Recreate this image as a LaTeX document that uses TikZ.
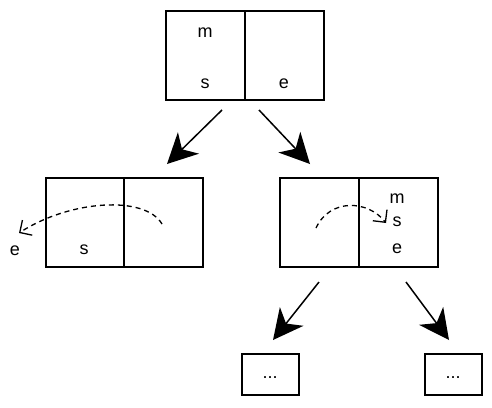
\documentclass[tikz,border=0pt]{standalone}
\usepackage{fontspec}
\setmainfont{Liberation Sans}
\usetikzlibrary{arrows.meta}
\begin{document}
\begin{tikzpicture}[x=1pt,y=-1pt,
  cell/.style={draw,line width=1.7pt,minimum width=79pt,minimum height=89pt,inner sep=0pt,anchor=north west},
  small/.style={draw,line width=1.7pt,minimum width=57pt,minimum height=41pt,inner sep=0pt,anchor=north west},
  lbl/.style={font=\fontsize{18}{21}\selectfont,inner sep=0pt},
  big/.style={line width=1.5pt,-{Stealth[length=30pt,width=30pt,inset=9pt]}},
  curl/.style={line width=1.3pt,dashed,dash pattern=on 5pt off 4pt,-{Straight Barb[length=9pt,width=18pt,line width=1.3pt]}}]
\useasboundingbox (0,0) rectangle (492,407);
% top
\node[cell] (tl) at (165,10) {};
\node[cell] (tr) at (244,10) {};
\node[lbl] (tm) at (205,33) {m};
\node[lbl] (ts) at (205,84) {s};
\node[lbl] (te) at (284,84) {e};
% left
\node[cell,minimum width=78pt] (ll) at (45,177) {};
\node[cell] (lr) at (123,177) {};
\node[lbl] (ls) at (84,250) {s};
\node[lbl] (le) at (15,251) {e};
% right
\node[cell] (rl) at (279,177) {};
\node[cell] (rr) at (358,177) {};
\node[lbl] (rm) at (397,199) {m};
\node[lbl] (rs) at (397,222) {s};
\node[lbl] (re) at (397,249) {e};
% small
\node[small] (b1) at (241,353) {};
\node[small] (b2) at (424,353) {};
\node[lbl] (d1) at (270,378) {...};
\node[lbl] (d2) at (453,378) {...};
% arrow points
\coordinate (a1s) at (222,110);
\coordinate (a1e) at (167,164);
\coordinate (a2s) at (259,110);
\coordinate (a2e) at (310,164);
\coordinate (a3s) at (319,282);
\coordinate (a3e) at (273,340);
\coordinate (a4s) at (406,282);
\coordinate (a4e) at (449,340);
\draw[big] (a1s) -- (a1e);
\draw[big] (a2s) -- (a2e);
\draw[big] (a3s) -- (a3e);
\draw[big] (a4s) -- (a4e);
% dashed curves
\coordinate (c1s) at (162,224);
\coordinate (c1e) at (19,233);
\coordinate (c2s) at (316,228);
\coordinate (c2e) at (386,223);
\draw[curl] (c1s) .. controls (145,195) and (70,200) .. (c1e);
\draw[curl] (c2s) .. controls (330,198) and (368,200) .. (c2e);
\end{tikzpicture}
\end{document}
